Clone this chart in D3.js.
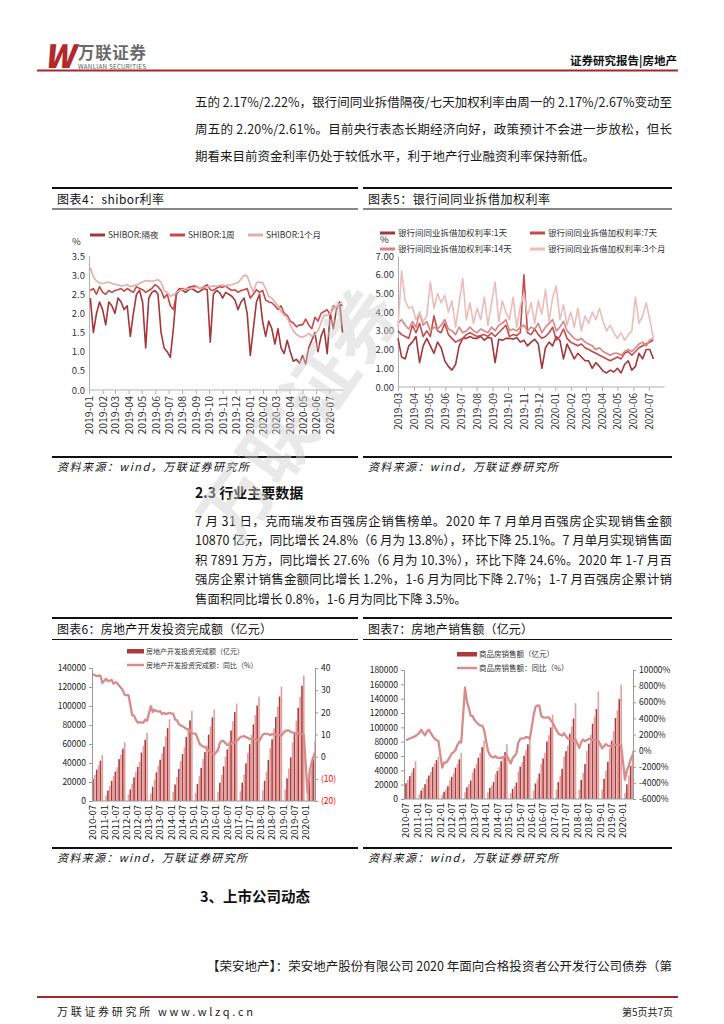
<!DOCTYPE html>
<html>
<head>
<meta charset="utf-8">
<script src="https://cdn.jsdelivr.net/npm/d3@7/dist/d3.min.js"></script>
<style>
  body { margin: 0; background: #fff; }
  text { font-family: "Noto Sans CJK SC", "Liberation Sans", sans-serif; }
</style>
</head>
<body>
<svg id="page"></svg>
<script>
// ---------- DATA ----------
// 图表4: shibor 周度 (2019-01-04 起, 每周五)
const shiborON = [2.40,1.50,2.00,2.30, 2.10,1.70,2.30,2.20, 2.00,2.40,2.30,2.10,2.20, 1.40,2.00,2.50,2.60,
  2.30,1.10,2.40,2.55,2.60, 2.50,1.50,1.10,1.00, 0.85,1.60,2.55,2.65, 2.60,2.55,2.62,2.65,2.60,
  2.55,2.60,2.65,2.62, 1.25,2.50,2.60,2.55, 2.40,2.55,2.50,2.45,2.35, 2.10,2.30,2.40,2.00,
  0.90,1.60,2.30,2.50,1.80, 1.40,1.80,1.60,1.20, 1.60,1.10,0.95,1.30, 1.00,0.75,0.80,0.70,
  0.90,0.68,1.10,1.30,1.50, 1.00,1.40,1.60,0.95, 2.00,1.60,2.10,2.30,1.50];
const shibor1W = [2.60,2.65,2.50,2.70, 2.55,2.50,2.60,2.55, 2.60,2.62,2.65,2.58,2.65, 2.60,2.55,2.70,2.65,
  2.62,2.55,2.60,2.65,2.75, 2.70,2.60,2.40,2.50, 2.20,2.10,2.50,2.60, 2.65,2.62,2.68,2.70,2.72,
  2.68,2.65,2.70,2.75, 2.62,2.60,2.66,2.70, 2.68,2.72,2.65,2.60,2.62, 2.55,2.60,2.62,2.65,
  2.40,2.50,2.62,2.55,2.60, 2.35,2.30,2.28,2.20, 2.10,2.20,2.00,1.95, 1.80,1.75,1.65,1.70,
  1.70,1.85,1.70,1.60,1.90, 1.80,2.00,2.05,2.10, 1.95,2.20,2.15,2.25,2.20];
const shibor1M = [3.20,2.95,2.85,2.80, 2.78,2.80,2.82,2.78, 2.76,2.74,2.72,2.73,2.75, 2.70,2.72,2.74,2.78,
  2.82,2.86,2.85,2.84,2.86, 2.88,2.82,2.60,2.55, 2.45,2.48,2.55,2.60, 2.62,2.65,2.64,2.66,2.68,
  2.68,2.66,2.67,2.70, 2.70,2.72,2.71,2.73, 2.74,2.72,2.74,2.75,2.78, 2.80,2.90,3.00,2.98,
  2.75,2.55,2.80,2.82,2.80, 2.65,2.45,2.40,2.30, 2.20,2.05,1.95,1.90, 1.70,1.55,1.45,1.40,
  1.38,1.42,1.48,1.40,1.45, 1.55,1.75,1.95,1.95, 2.00,2.10,2.18,2.25,2.30];
const shiborTicks = ["2019-01","2019-02","2019-03","2019-04","2019-05","2019-06","2019-07","2019-08","2019-09",
  "2019-10","2019-11","2019-12","2020-01","2020-02","2020-03","2020-04","2020-05","2020-06","2020-07"];

// 图表5: 银行间同业拆借加权利率 周度 (2019-03-01 起)
const ib1D = [2.6,1.6,1.5,2.2,2.4, 2.7,1.3,2.2,2.6, 2.2,1.8,2.4,2.1,1.4, 1.1,0.9,1.2,2.2, 2.6,2.6,2.7,2.6,
  2.6,2.7,2.5,2.65,2.6, 1.3,2.55,2.5,2.6, 2.6,2.55,2.65,2.4, 2.5,2.2,2.4,2.55,2.3, 1.0,2.1,2.4,2.2,
  2.7,2.5,1.5,2.3,1.9, 1.5,1.8,1.6,1.4, 1.4,1.0,1.3,1.1, 0.85,0.75,0.9,0.8, 1.0,0.75,1.2,1.4,0.9,
  1.1,1.8,1.5,2.0, 2.0,1.5];
const ib7D = [3.0,2.8,2.7,2.6,3.3, 2.9,3.4,2.7,3.0, 2.7,3.8,3.0,2.9,3.4, 2.8,2.6,2.4,2.5, 2.6,2.8,2.9,2.8,
  2.7,2.75,2.8,2.7,2.9, 2.7,2.9,3.1,3.3, 2.7,2.8,2.75,2.9, 6.0,2.9,2.8,3.1,2.8, 2.6,2.7,2.9,3.2,
  2.5,2.7,3.1,2.6,2.4, 2.3,2.2,2.3,2.1, 2.0,1.9,1.8,1.7, 1.6,1.5,1.4,1.5, 1.6,1.5,1.8,1.9,1.7,
  1.9,2.1,2.2,2.3, 2.4,2.5];
const ib14D = [3.4,3.6,3.3,3.1,3.5, 3.2,4.0,3.3,3.5, 3.0,3.2,3.1,3.3,3.6, 3.1,3.0,2.8,3.2, 2.9,3.0,3.2,3.0,
  2.9,3.1,3.0,2.9,3.2, 3.0,3.3,3.4,3.6, 3.0,3.1,3.0,3.2, 3.3,3.0,3.2,3.1,3.4, 2.9,3.2,3.4,3.6,
  3.0,3.2,3.5,3.0,2.8, 2.6,2.5,2.6,2.4, 2.3,2.2,2.0,2.1, 1.9,1.8,1.7,1.8, 1.8,1.7,1.9,2.0,1.9,
  2.1,2.3,2.4,2.2, 2.5,2.6];
const ib3M = [3.2,6.2,4.6,4.2,4.3, 3.6,4.0,3.5,3.8, 5.6,4.2,5.0,4.5,4.9, 4.0,4.6,3.2,4.5, 5.8,3.6,4.5,3.4,
  4.2,3.6,4.8,3.3,4.5, 5.6,3.5,4.6,4.0, 3.6,4.8,3.2,4.3, 5.0,3.8,4.5,3.4,4.6, 3.9,5.2,3.5,4.8,
  5.4,3.6,4.4,3.3,4.0, 3.2,4.2,3.0,3.8, 3.4,4.0,3.6,4.2, 3.5,3.0,3.3,2.9, 2.6,2.9,2.5,2.8,3.0,
  4.8,3.4,3.8,4.5, 3.6,2.6];
const ibTicks = ["2019-03","2019-04","2019-05","2019-06","2019-07","2019-08","2019-09","2019-10","2019-11",
  "2019-12","2020-01","2020-02","2020-03","2020-04","2020-05","2020-06","2020-07"];

// 图表6/7: 月度 2010-07 ~ 2020-06 (1月无数据)
const investAmt = [23000,27500,33000,37500,42500,48300,
  null,5940,10990,15760,21180,26250,31000,35600,44000,49000,55000,61740,
  null,6900,12200,18200,24800,30900,36000,41300,51000,57700,64500,71800,
  null,8000,15000,22500,30100,36800,43400,50100,57200,68000,76700,86000,
  null,9700,17400,25400,33700,42000,49400,56600,67500,76700,84900,95000,
  null,8600,18000,26200,34900,44100,51700,58400,69900,78600,88000,96000,
  null,9900,19200,27400,36400,46600,54300,62800,74300,84000,93600,102600,
  null,10400,19300,28000,39600,50600,59800,69700,80600,90500,100400,109800,
  null,11000,21300,30600,43300,55500,65000,76500,88300,99300,110000,120300,
  null,12100,23800,34200,46100,61600,72800,84600,98000,109600,121300,132200,
  null,10100,21900,33100,45900,62800];
const investYoY = [37.2,36.7,36.4,36.5,36.5,33.2,
  null,35.2,34.1,34.3,34.6,32.9,33.6,33.2,32.0,31.1,29.9,27.9,
  null,27.8,23.5,18.7,18.5,16.6,15.4,15.6,15.4,15.4,16.7,16.2,
  null,22.8,20.2,21.1,20.6,20.3,20.5,19.3,19.7,19.2,19.5,19.8,
  null,19.3,16.8,16.4,14.7,14.1,13.7,13.2,12.5,12.4,11.9,10.5,
  null,10.4,8.5,6.0,5.1,4.6,4.3,3.5,2.6,2.0,1.3,1.0,
  null,3.0,6.2,7.2,7.0,6.1,5.3,5.4,5.8,6.6,6.5,6.9,
  null,8.9,9.1,9.3,8.8,8.5,7.9,7.9,8.1,7.8,7.5,7.0,
  null,9.9,10.4,10.3,10.2,9.7,10.2,10.1,9.9,9.7,9.7,9.5,
  null,11.6,11.8,11.9,11.2,10.9,10.6,10.5,10.5,10.3,10.2,9.9,
  null,-16.3,-7.7,-3.3,-0.3,1.9];
const salesAmt = [22000,27000,32000,37000,43000,52700,
  null,6600,11900,15900,20700,28000,32800,37700,44600,49200,54200,59100,
  null,5300,10200,13500,18000,26000,31000,36000,43700,49000,55300,64500,
  null,9400,16400,20600,25800,37200,42800,48700,57600,64500,72400,81400,
  null,9400,15500,19000,23600,34700,39200,44400,52700,58600,65400,76300,
  null,7900,14100,17700,22900,38300,45000,51300,60300,68400,76300,87300,
  null,11400,21700,27300,35600,49100,56500,64700,80100,89100,99900,117600,
  null,13300,23800,32500,42200,59400,66700,74700,91200,101200,112400,133700,
  null,13200,26600,36800,48900,66900,77300,89800,105200,114800,125700,150000,
  null,13600,28000,39800,51800,70700,81400,94600,113000,123700,139400,159700,
  null,8200,20400,33000,46300,66900];
const salesYoY = [1300,1400,1500,1600,1700,1800,
  null,2200,2600,2200,1900,2400,2600,2200,1800,1500,1300,1200,
  null,-2100,-1500,-1500,-1200,-800,-350,-200,100,700,1100,1000,
  null,7800,6100,5300,4300,4300,3800,3500,3300,3100,3100,2600,
  null,-10,-520,-780,-850,-670,-890,-890,-890,-810,-690,-630,
  null,-1600,-930,-670,-300,1000,1470,1530,1530,1680,1660,1440,
  null,4360,5410,5620,5580,4290,4130,4090,4130,4130,3780,3480,
  null,2540,2150,1970,1860,2150,1770,1480,1460,1290,1220,1370,
  null,350,1030,1380,1160,1320,1450,1450,1330,1300,1210,1220,
  null,280,560,810,610,560,620,670,710,730,730,650,
  null,-3590,-2470,-1860,-1060,-540];
const monthTicks = ["2010-07","2011-01","2011-07","2012-01","2012-07","2013-01","2013-07","2014-01","2014-07",
  "2015-01","2015-07","2016-01","2016-07","2017-01","2017-07","2018-01","2018-07","2019-01","2019-07","2020-01"];
const investLeftTicks = [0,20000,40000,60000,80000,100000,120000,140000];
const investRightTicks = [-20,-10,0,10,20,30,40];
const salesLeftTicks = [0,20000,40000,60000,80000,100000,120000,140000,160000,180000];
const salesRightTicks = [-6000,-4000,-2000,0,2000,4000,6000,8000,10000];

// ---------- PAGE ----------
const W = 724, H = 1024;
const svg = d3.select("#page").attr("width", W).attr("height", H);
svg.append("rect").attr("width", W).attr("height", H).attr("fill", "#fff");

const NUM = "'Liberation Sans', 'Noto Sans CJK SC', sans-serif";
const parseM = d3.timeParse("%Y-%m");

function label(g, str, x, y, o = {}) {
  const t = g.append("text").attr("x", x).attr("y", y).text(str)
    .attr("font-size", o.size || 12).attr("fill", o.fill || "#222");
  if (o.anchor) t.attr("text-anchor", o.anchor);
  if (o.weight) t.attr("font-weight", o.weight);
  if (o.len) t.attr("textLength", o.len).attr("lengthAdjust", "spacing");
  if (o.family) t.attr("font-family", o.family);
  if (o.style) t.attr("font-style", o.style);
  return t;
}
function hline(x1, x2, y, color, w) {
  svg.append("line").attr("x1", x1).attr("x2", x2).attr("y1", y).attr("y2", y)
    .attr("stroke", color).attr("stroke-width", w);
}

// Header
label(svg, "W", 44, 68, {size: 32, weight: 900, fill: "#b3282d", family: NUM, style: "italic", len: 22});
label(svg, "万联证券", 78, 58.5, {size: 16.5, weight: 700, fill: "#6b6b6b", len: 68});
label(svg, "WANLIAN SECURITIES", 78, 68.5, {size: 6.3, fill: "#555", family: NUM, len: 68});
hline(37, 678, 70.5, "#a3282d", 2);
label(svg, "证券研究报告|房地产", 677, 65, {size: 11.5, weight: 700, fill: "#111", anchor: "end"});

// Body text
const X0 = 195, X1 = 672;
function para(lines, y0, dy, size) {
  lines.forEach((s, i) => {
    const t = label(svg, s, X0, y0 + i * dy, {size: size, fill: "#1a1a1a"});
    if (i < lines.length - 1) t.attr("textLength", X1 - X0).attr("lengthAdjust", "spacing");
  });
}
para(["五的 2.17%/2.22%，银行间同业拆借隔夜/七天加权利率由周一的 2.17%/2.67%变动至",
      "周五的 2.20%/2.61%。目前央行表态长期经济向好，政策预计不会进一步放松，但长",
      "期看来目前资金利率仍处于较低水平，利于地产行业融资利率保持新低。"], 106.5, 27, 12.5);

// Figure frames
function frame(x0, x1, yTop, yRule, yBottom, title, tLen, sLen) {
  hline(x0, x1, yTop, "#111", 1.8);
  label(svg, title, x0 + 5, yTop + 15.5, {size: 12, fill: "#111", len: tLen});
  hline(x0, x1, yRule, "#111", 1.2);
  hline(x0, x1, yBottom, "#111", 1.8);
  label(svg, "资料来源：wind，万联证券研究所", x0 + 5, yBottom + 14, {size: 11, fill: "#111", style: "italic", len: sLen});
}
frame(52, 358, 188, 209, 457, "图表4：shibor利率", 107, 192);
frame(363, 672, 188, 209, 457, "图表5：银行间同业拆借加权利率", 182, 190);
frame(52, 358, 618, 639.5, 848, "图表6：房地产开发投资完成额（亿元）", 215, 190);
frame(363, 672, 618, 639.5, 848, "图表7：房地产销售额（亿元）", 165, 190);

// Rate line charts (图表4, 图表5)
function rateChart(o) {
  const g = svg.append("g");
  const x = d3.scaleTime().domain(o.xDomain).range(o.xRange);
  const y = d3.scaleLinear().domain([0, o.yMax]).range(o.yRange);
  const ya = g.append("g").attr("transform", `translate(${o.xRange[0]},0)`)
    .call(d3.axisLeft(y).tickValues(o.yTicks).tickFormat(d3.format(o.yFmt)).tickSize(0).tickPadding(4));
  ya.attr("font-family", NUM);
  ya.select(".domain").attr("stroke", "#b0b0b0");
  ya.selectAll("text").attr("font-size", 9.5).attr("fill", "#333");
  const xa = g.append("g").attr("transform", `translate(0,${o.yRange[0]})`)
    .call(d3.axisBottom(x).tickValues(o.ticks.map(parseM)).tickFormat(d3.timeFormat("%Y-%m")).tickSize(4).tickSizeOuter(0));
  xa.attr("font-family", NUM);
  xa.select(".domain").attr("stroke", "#b0b0b0").attr("d", `M${o.xRange[0]},0H${o.xRange[1]}`);
  xa.selectAll(".tick line").attr("stroke", "#b0b0b0");
  xa.selectAll("text").attr("transform", "rotate(-90)").attr("x", -6).attr("y", 0)
    .attr("dy", "0.35em").style("text-anchor", "end").attr("font-size", o.xFont).attr("fill", "#333");
  label(g, "%", o.pct[0], o.pct[1], {size: 9.5, fill: "#333", family: NUM});
  const line = d3.line().x(d => x(d.t)).y(d => y(d.v));
  o.series.forEach(s => {
    const pts = s.values.map((v, i) => ({t: d3.timeDay.offset(o.start, 7 * i), v: v}));
    g.append("path").datum(pts).attr("d", line).attr("fill", "none")
      .attr("stroke", s.color).attr("stroke-width", 1.6).attr("stroke-linejoin", "round");
    g.append("line").attr("x1", s.lx).attr("x2", s.lx + 15).attr("y1", s.ly - 3).attr("y2", s.ly - 3)
      .attr("stroke", s.color).attr("stroke-width", 3);
    label(g, s.name, s.lx + 18, s.ly, {size: 8.5, fill: "#333", family: NUM});
  });
}

rateChart({
  xDomain: [new Date(2019, 0, 1), new Date(2020, 7, 1)], xRange: [89, 343],
  yMax: 3.5, yRange: [390, 256], yTicks: [0, .5, 1, 1.5, 2, 2.5, 3, 3.5], yFmt: ".1f",
  ticks: shiborTicks, xFont: 10.5, pct: [72, 245], start: new Date(2019, 0, 4),
  series: [
    {name: "SHIBOR:隔夜", values: shiborON, color: "#a3373a", lx: 90, ly: 238},
    {name: "SHIBOR:1周", values: shibor1W, color: "#c74a48", lx: 170, ly: 238},
    {name: "SHIBOR:1个月", values: shibor1M, color: "#e5aeac", lx: 248, ly: 238}
  ]
});

rateChart({
  xDomain: [new Date(2019, 2, 1), new Date(2020, 7, 1)], xRange: [398, 664.7],
  yMax: 7, yRange: [387, 256], yTicks: [0, 1, 2, 3, 4, 5, 6, 7], yFmt: ".2f",
  ticks: ibTicks, xFont: 10, pct: [380, 243], start: new Date(2019, 2, 1),
  series: [
    {name: "银行间同业拆借加权利率:1天", values: ib1D, color: "#a3373a", lx: 380, ly: 236},
    {name: "银行间同业拆借加权利率:7天", values: ib7D, color: "#c44b49", lx: 530, ly: 236},
    {name: "银行间同业拆借加权利率:14天", values: ib14D, color: "#d98583", lx: 380, ly: 252},
    {name: "银行间同业拆借加权利率:3个月", values: ib3M, color: "#ebbcba", lx: 530, ly: 252}
  ]
});

// Bar + line charts (图表6, 图表7)
function barLineChart(o) {
  const g = svg.append("g");
  const n = o.bars.length;
  const x = d3.scaleLinear().domain([0, n - 1]).range(o.xRange);
  const yL = d3.scaleLinear().domain(o.leftDomain).range(o.yRange);
  const yR = d3.scaleLinear().domain(o.rightDomain).range(o.yRange);
  const bars = o.bars.map((v, i) => ({v, i})).filter(d => d.v != null);
  g.selectAll("rect").data(bars).join("rect")
    .attr("x", d => x(d.i) - 0.8).attr("width", 1.6)
    .attr("y", d => yL(d.v)).attr("height", d => yL(0) - yL(d.v))
    .attr("fill", d => d.i % 2 ? "#e0a09f" : "#ad3a3b");
  const pts = o.line.map((v, i) => ({v, i})).filter(d => d.v != null);
  g.append("path").datum(pts)
    .attr("d", d3.line().x(d => x(d.i)).y(d => yR(d.v)))
    .attr("fill", "none").attr("stroke", "#d98c8b").attr("stroke-width", 2.3).attr("stroke-linejoin", "round");

  const la = g.append("g").attr("transform", `translate(${o.leftX},0)`)
    .call(d3.axisLeft(yL).tickValues(o.leftTicks).tickFormat(d3.format("d")).tickSize(3).tickPadding(3));
  const ra = g.append("g").attr("transform", `translate(${o.rightX},0)`)
    .call(d3.axisRight(yR).tickValues(o.rightTicks).tickFormat(o.rightFmt).tickSize(3).tickPadding(3));
  [la, ra].forEach(a => {
    a.attr("font-family", NUM);
    a.select(".domain").attr("stroke", "#999");
    a.selectAll(".tick line").attr("stroke", "#999");
    a.selectAll("text").attr("font-size", o.yFont).attr("fill", "#222");
  });
  if (o.negRed) ra.selectAll("text").attr("fill", d => d < 0 ? "#ff0000" : "#222");

  g.append("line").attr("x1", o.leftX).attr("x2", o.rightX).attr("y1", yL(0)).attr("y2", yL(0))
    .attr("stroke", "#999");
  const idx = m => (+m.slice(0, 4) - 2010) * 12 + (+m.slice(5) - 7);
  g.selectAll("text.xl").data(monthTicks).join("text").attr("class", "xl")
    .attr("transform", m => `translate(${x(idx(m))},${yL(0) + 4}) rotate(-90)`)
    .attr("dy", "0.35em").attr("text-anchor", "end").attr("font-size", 9.5)
    .attr("font-family", NUM).attr("fill", "#222").text(m => m);

  // legend
  g.append("rect").attr("x", o.lg[0]).attr("y", o.lg[1] - 4).attr("width", o.lgW).attr("height", 4.5).attr("fill", "#ad3a3b");
  label(g, o.names[0], o.lg[0] + o.lgW + 2, o.lg[1] + 1, {size: o.lgFont, fill: "#333"});
  g.append("line").attr("x1", o.lg[0]).attr("x2", o.lg[0] + o.lgW).attr("y1", o.lg[2] - 2).attr("y2", o.lg[2] - 2)
    .attr("stroke", "#d98c8b").attr("stroke-width", 2.5);
  label(g, o.names[1], o.lg[0] + o.lgW + 2, o.lg[2] + 1, {size: o.lgFont, fill: "#333"});
}

barLineChart({
  bars: investAmt, line: investYoY, xRange: [93, 315], leftX: 92, rightX: 315,
  yRange: [801, 668], leftDomain: [0, 140000], rightDomain: [-20, 40],
  leftTicks: investLeftTicks, rightTicks: investRightTicks,
  rightFmt: d => d < 0 ? `(${-d})` : `${d}`, negRed: true, yFont: 8.5,
  lg: [127, 653, 667], lgW: 17, lgFont: 7,
  names: ["房地产开发投资完成额（亿元）", "房地产开发投资完成额：同比（%）"]
});

barLineChart({
  bars: salesAmt, line: salesYoY, xRange: [406, 632.6], leftX: 404, rightX: 633,
  yRange: [799, 670], leftDomain: [0, 180000], rightDomain: [-6000, 10000],
  leftTicks: salesLeftTicks, rightTicks: salesRightTicks,
  rightFmt: d => `${d}%`, negRed: false, yFont: 8.5,
  lg: [457, 656, 670], lgW: 20, lgFont: 7.5,
  names: ["商品房销售额（亿元）", "商品房销售额：同比（%）"]
});

// Section 2.3
label(svg, "2.3 行业主要数据", X0, 498, {size: 14, weight: 700, fill: "#111"});
para(["7 月 31 日，克而瑞发布百强房企销售榜单。2020 年 7 月单月百强房企实现销售金额",
      "10870 亿元，同比增长 24.8%（6 月为 13.8%），环比下降 25.1%。7 月单月实现销售面",
      "积 7891 万方，同比增长 27.6%（6 月为 10.3%），环比下降 24.6%。2020 年 1-7 月百",
      "强房企累计销售金额同比增长 1.2%，1-6 月为同比下降 2.7%；1-7 月百强房企累计销",
      "售面积同比增长 0.8%，1-6 月为同比下降 3.5%。"], 525.5, 19.5, 12.5);

// Section 3
label(svg, "3、上市公司动态", X0 + 5, 902, {size: 14.5, weight: 700, fill: "#111"});
label(svg, "【荣安地产】：荣安地产股份有限公司 2020 年面向合格投资者公开发行公司债券（第", 207, 971,
  {size: 12.5, fill: "#1a1a1a", len: X1 - 207});

// Footer
hline(37, 678, 997, "#a3282d", 1.8);
label(svg, "万联证券研究所 www.wlzq.cn", 57, 1016, {size: 11, fill: "#222", len: 196});
label(svg, "第5页共7页", 673, 1016, {size: 10, fill: "#222", anchor: "end"});

// Watermark
svg.append("text").attr("transform", "translate(300,415) rotate(-55)")
  .attr("text-anchor", "middle").attr("dy", "0.35em")
  .attr("font-size", 72).attr("font-weight", 700).attr("fill", "#cfcfcf").attr("opacity", 0.45)
  .text("万联证券");
</script>
</body>
</html>
